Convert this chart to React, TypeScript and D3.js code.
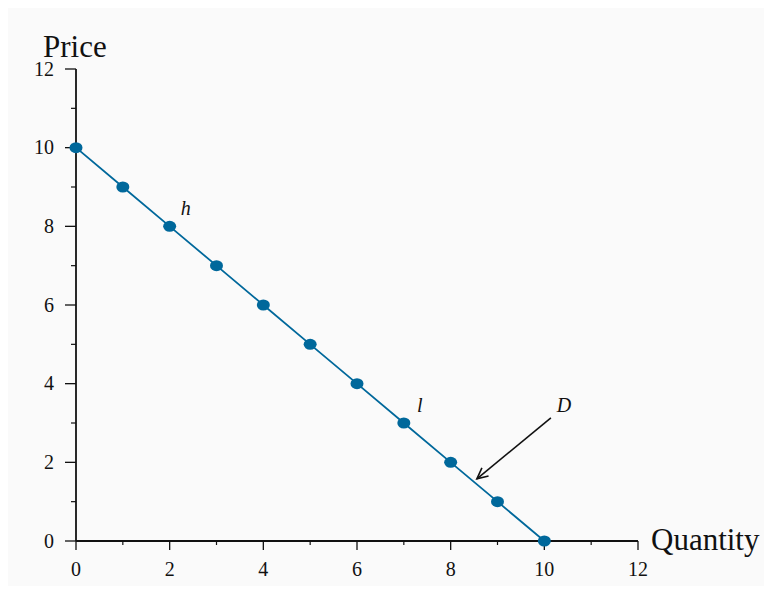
import React from "react";
import * as d3 from "d3";

const quantities = [0, 1, 2, 3, 4, 5, 6, 7, 8, 9, 10];
const prices = [10, 9, 8, 7, 6, 5, 4, 3, 2, 1, 0];
const majorTicks = [0, 2, 4, 6, 8, 10, 12];
const minorTicks = [1, 3, 5, 7, 9, 11];
const pointLabels = [
  { text: "h", q: 2, p: 8 },
  { text: "l", q: 7, p: 3 },
];
const curveLabel = { text: "D", from: [10.14, 3.13], to: [8.56, 1.58] };

const W = 756;
const H = 578;
const OX = 8;
const OY = 8;

export default function App() {
  const x = d3.scaleLinear().domain([0, 12]).range([76 - OX, 638 - OX]);
  const y = d3.scaleLinear().domain([0, 12]).range([541 - OY, 69 - OY]);
  const color = "#00689b";
  const pts = quantities.map((q, i) => [q, prices[i]] as [number, number]);
  const line = d3
    .line<[number, number]>()
    .x((d) => x(d[0]))
    .y((d) => y(d[1]));

  const ax0 = x(0);
  const ay0 = y(0);
  const serif = "'Liberation Serif', 'Times New Roman', serif";

  const ax1 = x(curveLabel.from[0]);
  const ay1 = y(curveLabel.from[1]);
  const ax2 = x(curveLabel.to[0]);
  const ay2 = y(curveLabel.to[1]);
  const ang = Math.atan2(ay2 - ay1, ax2 - ax1);
  const hl = 12;
  const spread = 0.45;
  const h1 = [ax2 - hl * Math.cos(ang - spread), ay2 - hl * Math.sin(ang - spread)];
  const h2 = [ax2 - hl * Math.cos(ang + spread), ay2 - hl * Math.sin(ang + spread)];

  return (
    <svg width={W} height={H} style={{ display: "block" }} fontFamily={serif}>
      <rect x={0} y={0} width={W} height={H} fill="#fafafa" />
      {/* axes */}
      <line x1={ax0} y1={y(12)} x2={ax0} y2={ay0} stroke="#111" strokeWidth={1.8} />
      <line x1={ax0} y1={ay0} x2={x(12)} y2={ay0} stroke="#111" strokeWidth={1.8} />
      {majorTicks.map((t) => (
        <g key={"ym" + t}>
          <line x1={ax0 - 11} x2={ax0} y1={y(t)} y2={y(t)} stroke="#111" strokeWidth={1.3} />
          <text x={ax0 - 22} y={y(t)} dy="0.33em" textAnchor="end" fontSize={20} fill="#111">
            {t}
          </text>
        </g>
      ))}
      {minorTicks.map((t) => (
        <line key={"yn" + t} x1={ax0 - 5} x2={ax0} y1={y(t)} y2={y(t)} stroke="#111" strokeWidth={1.2} />
      ))}
      {majorTicks.map((t) => (
        <g key={"xm" + t}>
          <line x1={x(t)} x2={x(t)} y1={ay0} y2={ay0 + 9} stroke="#111" strokeWidth={1.3} />
          <text x={x(t)} y={ay0 + 35} textAnchor="middle" fontSize={20} fill="#111">
            {t}
          </text>
        </g>
      ))}
      {minorTicks.map((t) => (
        <line key={"xn" + t} x1={x(t)} x2={x(t)} y1={ay0} y2={ay0 + 4} stroke="#111" strokeWidth={1.2} />
      ))}
      <text x={43 - OX} y={57 - OY} fontSize={31} fill="#111">
        Price
      </text>
      <text x={x(12) + 13} y={ay0 + 9} fontSize={31} fill="#111">
        Quantity
      </text>
      {/* demand line */}
      <path d={line(pts) || ""} fill="none" stroke={color} strokeWidth={1.8} />
      {pts.map((d, i) => (
        <ellipse key={i} cx={x(d[0])} cy={y(d[1])} rx={6.5} ry={5.5} fill={color} />
      ))}
      {pointLabels.map((l) => (
        <text
          key={l.text}
          x={x(l.q) + 16}
          y={y(l.p) - 11}
          fontSize={20}
          fontStyle="italic"
          fill="#111"
          textAnchor="middle"
        >
          {l.text}
        </text>
      ))}
      {/* arrow */}
      <line x1={ax1} y1={ay1} x2={ax2} y2={ay2} stroke="#111" strokeWidth={1.6} />
      <polyline
        points={`${h1[0]},${h1[1]} ${ax2},${ay2} ${h2[0]},${h2[1]}`}
        fill="none"
        stroke="#111"
        strokeWidth={1.6}
      />
      <text x={ax1 + 13} y={ay1 - 6} fontSize={20} fontStyle="italic" fill="#111" textAnchor="middle">
        {curveLabel.text}
      </text>
    </svg>
  );
}
